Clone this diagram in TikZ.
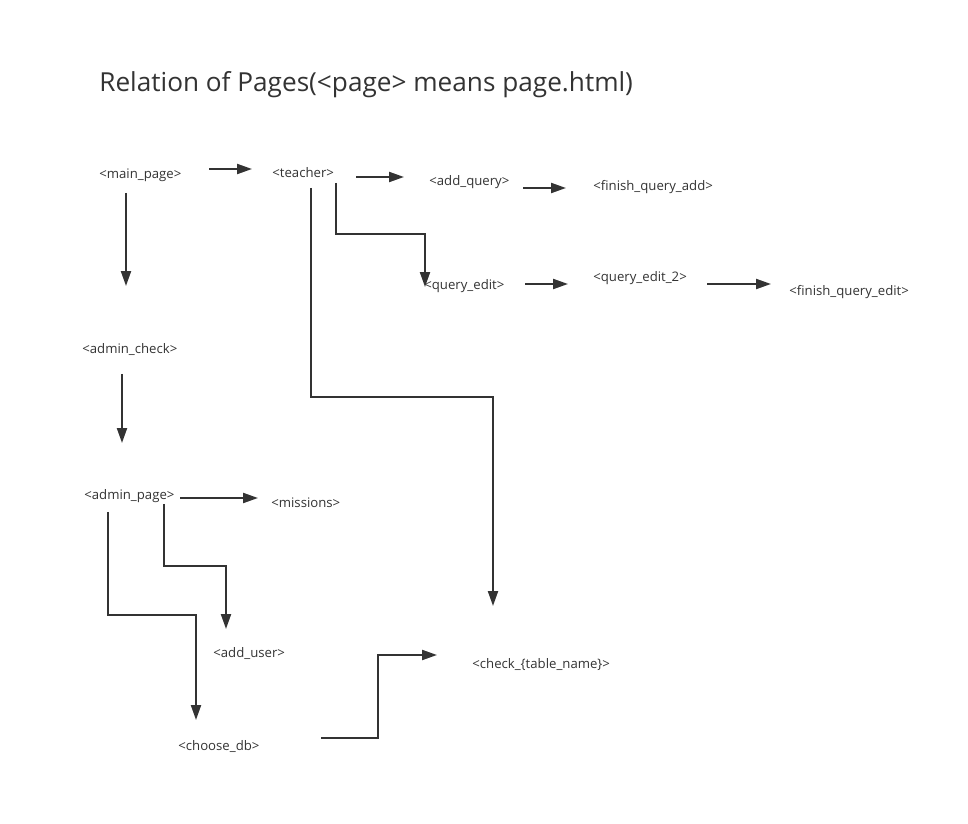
\documentclass[tikz,border=0pt]{standalone}
\usepackage{fontspec}
\setmainfont{Open Sans}
\usetikzlibrary{arrows.meta}
\definecolor{ink}{HTML}{333333}
\begin{document}
\begin{tikzpicture}[x=0.02cm,y=-0.02cm,
    page/.style={anchor=west,inner sep=0pt,text=ink,font=\fontsize{7.5}{9}\selectfont},
    link/.style={draw=ink,line width=1.1pt,-{Triangle[length=8.5pt,width=5.7pt]}}]
    \useasboundingbox (0,0) rectangle (968,824);
    \node[anchor=west,inner sep=0pt,text=ink,font=\fontsize{14.9}{17}\selectfont] (title) at (99,85) {Relation of Pages(<page> means page.html)};
    % pages
    \node[page] (main) at (99,175) {<main\_page>};
    \node[page] (teacher) at (272,173) {<teacher>};
    \node[page] (addq) at (429,182) {<add\_query>};
    \node[page] (finadd) at (593,187) {<finish\_query\_add>};
    \node[page] (qedit) at (424,286) {<query\_edit>};
    \node[page] (qedit2) at (593,278) {<query\_edit\_2>};
    \node[page] (finedit) at (789,292) {<finish\_query\_edit>};
    \node[page] (acheck) at (82,350) {<admin\_check>};
    \node[page] (apage) at (84,496) {<admin\_page>};
    \node[page] (missions) at (271,503) {<missions>};
    \node[page] (adduser) at (213,654) {<add\_user>};
    \node[page] (choosedb) at (178,747) {<choose\_db>};
    \node[page] (check) at (472,665) {<check\_\{table\_name\}>};
    % arrow ends
    \coordinate (main-r) at (209,169);   \coordinate (teacher-l) at (252,169);
    \coordinate (teacher-r) at (356,177); \coordinate (addq-l) at (404,177);
    \coordinate (addq-r) at (523,188);   \coordinate (finadd-l) at (566,188);
    \coordinate (qedit-r) at (525,284);  \coordinate (qedit2-l) at (568,284);
    \coordinate (qedit2-r) at (707,284); \coordinate (finedit-l) at (771,284);
    \coordinate (main-b) at (126,193);   \coordinate (acheck-t) at (126,286);
    \coordinate (acheck-b) at (122,374); \coordinate (apage-t) at (122,443);
    \coordinate (apage-r) at (180,498);  \coordinate (missions-l) at (258,498);
    \coordinate (teacher-b1) at (336,183); \coordinate (qedit-t) at (425,287);
    \coordinate (teacher-b2) at (311,188); \coordinate (check-t) at (493,606);
    \coordinate (apage-b1) at (164,504); \coordinate (adduser-t) at (226,629);
    \coordinate (apage-b2) at (108,512); \coordinate (choosedb-t) at (196,720);
    \coordinate (choosedb-r) at (321,738); \coordinate (check-l) at (437,655);
    % links
    \draw[link] (main-r) -- (teacher-l);
    \draw[link] (teacher-r) -- (addq-l);
    \draw[link] (addq-r) -- (finadd-l);
    \draw[link] (qedit-r) -- (qedit2-l);
    \draw[link] (qedit2-r) -- (finedit-l);
    \draw[link] (main-b) -- (acheck-t);
    \draw[link] (acheck-b) -- (apage-t);
    \draw[link] (apage-r) -- (missions-l);
    \draw[link] (teacher-b1) -- ++(0,51) -| (qedit-t);
    \draw[link] (teacher-b2) -- ++(0,209) -| (check-t);
    \draw[link] (apage-b1) -- ++(0,62) -| (adduser-t);
    \draw[link] (apage-b2) -- ++(0,103) -| (choosedb-t);
    \draw[link] (choosedb-r) -- ++(57,0) |- (check-l);
\end{tikzpicture}
\end{document}
